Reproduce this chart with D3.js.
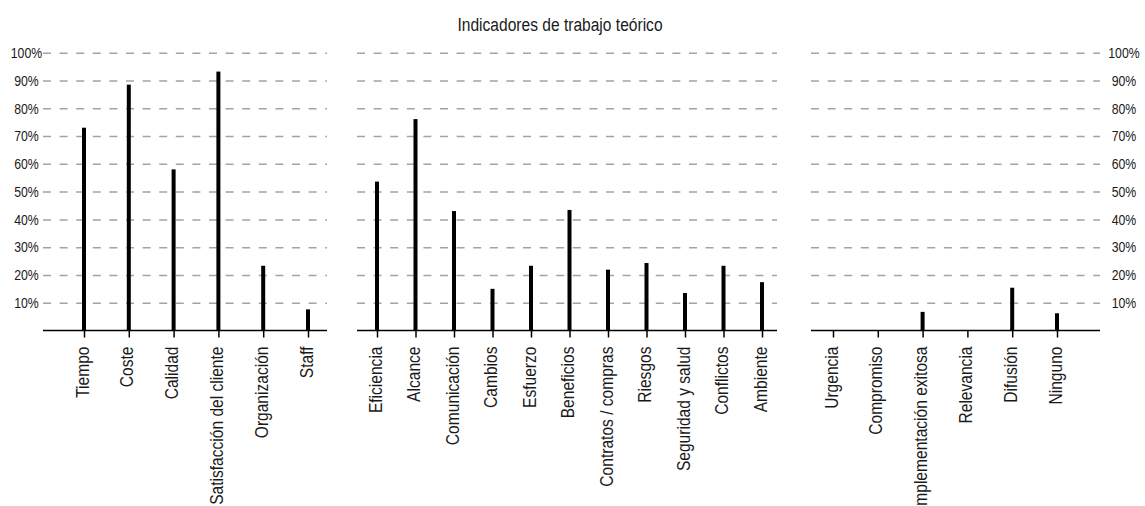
<!DOCTYPE html>
<html lang="es">
<head>
<meta charset="UTF-8">
<title>Indicadores de trabajo teórico</title>
<style>
    body { margin:0; background:#fff; }
    svg text { font-family: "Liberation Sans", Arial, sans-serif; fill:#1a1a1a; }
    .grid line { stroke:#a3a3a3; stroke-width:1.5; stroke-dasharray:8,8.6; }
    .grid path { display:none; }
    .xaxis path { display:none; }
    .xaxis line { stroke:#000; stroke-width:1.5; }
    .base { stroke:#000; stroke-width:1.6; }
</style>
</head>
<body>
<script src="https://cdn.jsdelivr.net/npm/d3@7/dist/d3.min.js"></script>
<script>
    var title = "Indicadores de trabajo teórico";

    var cats1 = ["Tiempo", "Coste", "Calidad", "Satisfacción del cliente", "Organización", "Staff"];
    var vals1 = [73, 88.5, 58, 93.2, 23.3, 7.6];

    var cats2 = ["Eficiencia", "Alcance", "Comunicación", "Cambios", "Esfuerzo", "Beneficios",
                 "Contratos / compras", "Riesgos", "Seguridad y salud", "Conflictos", "Ambiente"];
    var vals2 = [53.6, 76.1, 43, 15, 23.3, 43.4, 21.9, 24.3, 13.5, 23.3, 17.4];

    var cats3 = ["Urgencia", "Compromiso", "Implementación exitosa", "Relevancia", "Difusión", "Ninguno"];
    var vals3 = [0, 0, 6.7, 0, 15.4, 6.2];

    var yTicks = [10, 20, 30, 40, 50, 60, 70, 80, 90, 100];
    var yTickLabels = ["10%", "20%", "30%", "40%", "50%", "60%", "70%", "80%", "90%", "100%"];

    var w = 1145, h = 506;
    var narrow = 0.82; // texto estrecho tipo Arial Narrow

    var y = d3.scaleLinear().domain([0, 100]).range([330.5, 52.7]);

    // marco de cada panel (en px)
    var panels = [
        {cats: cats1, vals: vals1, x0: 43, x1: 327, p0: 84, p1: 308},
        {cats: cats2, vals: vals2, x0: 357, x1: 777, p0: 377, p1: 762},
        {cats: cats3, vals: vals3, x0: 811, x1: 1100, p0: 833, p1: 1057}
    ];

    var svg = d3.select("body").append("svg").attr("width", w).attr("height", h);
    svg.append("rect").attr("width", w).attr("height", h).attr("fill", "#fff");

    svg.append("text")
        .attr("transform", "translate(560,31) scale(" + narrow + ",1)")
        .attr("text-anchor", "middle")
        .attr("font-size", "19px")
        .text(title);

    panels.forEach(function (p) {
        var x = d3.scalePoint().domain(p.cats).range([p.p0, p.p1]);

        // lineas de division
        var grid = d3.axisRight(y).tickValues(yTicks).tickSize(p.x1 - p.x0).tickFormat("");
        svg.append("g").attr("class", "grid")
            .attr("transform", "translate(" + p.x0 + ",0)")
            .call(grid);

        // barras
        svg.append("g").selectAll("rect")
            .data(p.cats)
            .enter()
            .append("rect")
            .attr("x", function (d) { return x(d) - 2; })
            .attr("width", 4)
            .attr("y", function (d, i) { return y(p.vals[i]); })
            .attr("height", function (d, i) { return y(0) - y(p.vals[i]); })
            .attr("fill", "#000");

        // eje x
        svg.append("line").attr("class", "base")
            .attr("x1", p.x0).attr("x2", p.x1)
            .attr("y1", y(0)).attr("y2", y(0));

        var xAxis = d3.axisBottom(x).tickSize(7);
        var gx = svg.append("g").attr("class", "xaxis")
            .attr("transform", "translate(0," + y(0) + ")")
            .call(xAxis);
        gx.selectAll("text")
            .attr("x", null).attr("y", null).attr("dy", null)
            .attr("text-anchor", "end")
            .attr("font-size", "19px")
            .attr("fill", "#1a1a1a")
            .attr("transform", "translate(4,16) rotate(-90) scale(" + narrow + ",1)");
    });

    // etiquetas del eje y, izquierda y derecha
    [26.5, 1124].forEach(function (cx) {
        svg.append("g").selectAll("text")
            .data(yTicks)
            .enter()
            .append("text")
            .attr("transform", function (d) { return "translate(" + cx + "," + y(d) + ") scale(" + narrow + ",1)"; })
            .attr("dy", "0.35em")
            .attr("text-anchor", "middle")
            .attr("font-size", "15px")
            .text(function (d, i) { return yTickLabels[i]; });
    });
</script>
</body>
</html>
